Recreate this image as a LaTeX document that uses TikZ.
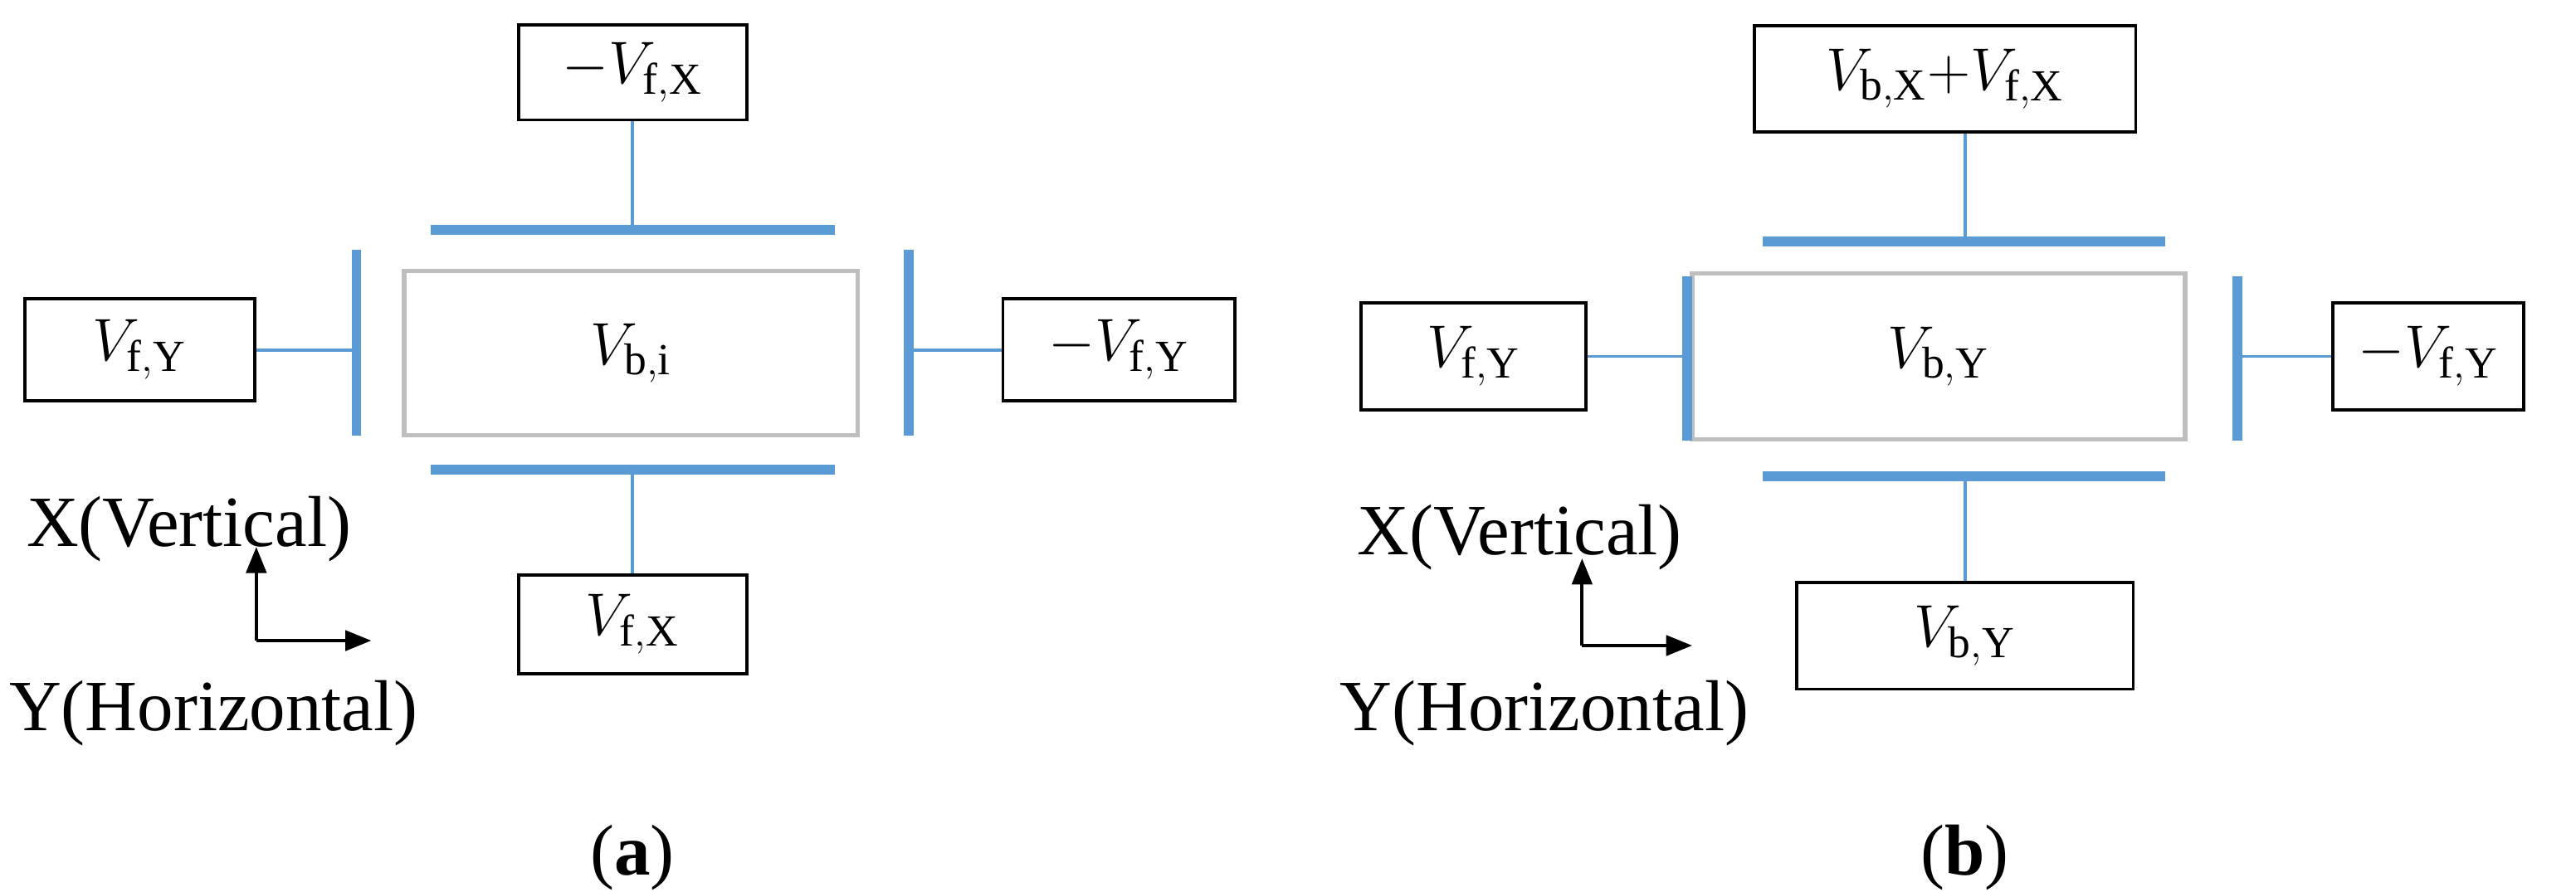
\documentclass[tikz,border=0pt]{standalone}
\usepackage{fontspec}
\setmainfont{Liberation Serif}
\usetikzlibrary{arrows.meta}
\begin{document}
\begin{tikzpicture}[x=0.02cm,y=-0.02cm,
  every node/.style={font=\fontsize{22}{26}\selectfont},
  lab/.style={font=\fontsize{25}{30}\selectfont},
  bx/.style={draw=black,line width=1.1pt,inner sep=0pt},
  cb/.style={draw=black!25,line width=1.6pt,inner sep=0pt},
  bar/.style={draw={rgb,255:red,91;green,155;blue,213},line width=3.4pt},
  ln/.style={draw={rgb,255:red,91;green,155;blue,213},line width=1.1pt},
  ax/.style={draw=black,line width=1.1pt,-{Triangle[length=9pt,width=7pt]}}]
\useasboundingbox (0,0) rectangle (1568,543);
% panel a
\node[bx,minimum width=2.78cm,minimum height=1.16cm] (at) at (385,44) {$-V_{\mathrm{f,X}}$};
\node[bx,minimum width=2.78cm,minimum height=1.2cm] (ab) at (385,380) {$V_{\mathrm{f,X}}$};
\node[bx,minimum width=2.8cm,minimum height=1.24cm] (al) at (85,213) {$V_{\mathrm{f,Y}}$};
\node[bx,minimum width=2.82cm,minimum height=1.24cm] (ar) at (681,213) {$-V_{\mathrm{f,Y}}$};
\node[cb,minimum width=5.52cm,minimum height=2cm] (ac) at (384,215) {$V_{\mathrm{b,i}}$};
\coordinate (atb) at (385,140); \coordinate (abb) at (385,286);
\coordinate (alb) at (217,213); \coordinate (arb) at (553,213);
\draw[bar] (262,140) -- (508,140);
\draw[bar] (262,286) -- (508,286);
\draw[bar] (217,152) -- (217,265);
\draw[bar] (553,152) -- (553,265);
\draw[ln] (at.south) -- (atb); \draw[ln] (ab.north) -- (abb);
\draw[ln] (al.east) -- (alb); \draw[ln] (ar.west) -- (arb);
\node[lab] (axv) at (115,322) {X(Vertical)};
\node[lab] (axh) at (130,434) {Y(Horizontal)};
\coordinate (ao) at (156,390);
\draw[ax] (ao) -- (156,333);
\draw[ax] (ao) -- (226,390);
\node[lab] (la) at (385,522) {(\textbf{a})};
% panel b
\node[bx,minimum width=4.64cm,minimum height=1.3cm] (bt) at (1184,48) {$V_{\mathrm{b,X}}{+}V_{\mathrm{f,X}}$};
\node[bx,minimum width=4.1cm,minimum height=1.3cm] (bb) at (1196,387) {$V_{\mathrm{b,Y}}$};
\node[bx,minimum width=2.74cm,minimum height=1.3cm] (bl) at (897,217) {$V_{\mathrm{f,Y}}$};
\node[bx,minimum width=2.32cm,minimum height=1.3cm] (br) at (1478,217) {$-V_{\mathrm{f,Y}}$};
\node[cb,minimum width=6cm,minimum height=2.02cm] (bc) at (1180,217) {$V_{\mathrm{b,Y}}$};
\coordinate (btb) at (1196,147); \coordinate (bbb) at (1196,290);
\coordinate (blb) at (1027,217); \coordinate (brb) at (1362,217);
\draw[bar] (1073,147) -- (1318,147);
\draw[bar] (1073,290) -- (1318,290);
\draw[bar] (1027,168) -- (1027,268);
\draw[bar] (1362,168) -- (1362,268);
\draw[ln] (btb |- bt.south) -- (btb); \draw[ln] (bb.north) -- (bbb);
\draw[ln] (bl.east) -- (blb); \draw[ln] (br.west) -- (brb);
\node[lab] (bxv) at (925,327) {X(Vertical)};
\node[lab] (bxh) at (940,434) {Y(Horizontal)};
\coordinate (bo) at (963,393);
\draw[ax] (bo) -- (963,340);
\draw[ax] (bo) -- (1030,393);
\node[lab] (lb) at (1196,522) {(\textbf{b})};
\end{tikzpicture}
\end{document}
